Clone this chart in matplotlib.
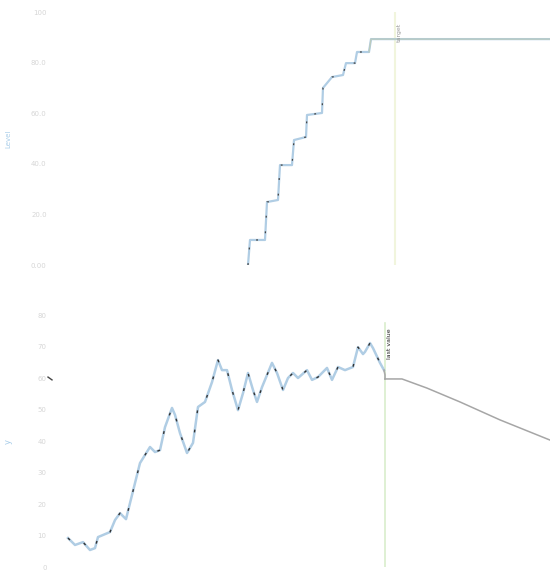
import matplotlib.pyplot as plt

# top panel: cumulative level (stair steps), x in days
top_x = [193, 195, 210, 212, 223, 225, 237, 239, 251, 252, 267, 268, 277, 288, 291, 300, 302, 314, 316, 495]
top_y = [0, 9.9, 9.9, 24.9, 25.7, 39.5, 39.5, 49.4, 50.6, 59.3, 60.1, 70.0, 74.3, 75.1, 79.8, 79.8, 84.2, 84.2, 89.3, 89.3]

# bottom panel: observed series then projection
obs_x = [13, 20, 28, 35, 40, 43, 55, 60, 65, 71, 75, 85, 95, 100, 105, 110, 117, 120, 125, 132,
         138, 143, 150, 157, 163, 167, 172, 177, 183, 188, 193, 198, 202, 207, 217, 222, 228, 233,
         238, 243, 252, 257, 263, 272, 277, 283, 290, 298, 303, 308, 310, 315, 318, 325, 329]
obs_y = [9.2, 7.0, 7.9, 5.4, 6.0, 9.5, 11.1, 14.9, 17.1, 15.2, 20.3, 33.0, 38.1, 36.5, 37.1, 44.4,
         50.5, 48.3, 42.5, 36.2, 39.4, 50.8, 52.4, 58.7, 65.7, 62.5, 62.5, 56.2, 49.8, 55.2, 61.6,
         56.2, 52.4, 57.1, 64.8, 61.6, 56.2, 60.0, 61.6, 60.0, 62.5, 59.4, 60.3, 63.2, 59.4, 63.5,
         62.5, 63.5, 69.8, 67.6, 68.3, 71.1, 69.5, 64.8, 62.5]
proj_x = [330, 347, 372, 405, 445, 495]
proj_y = [59.7, 59.7, 56.8, 52.4, 46.7, 40.3]

top_event_x = 340
bottom_event_x = 330
light_blue = '#b0cde4'

fig = plt.figure(figsize=(5.5, 5.78), dpi=100)
ax1 = fig.add_axes([0.1, 0.5415, 0.9, 0.4377])
ax2 = fig.add_axes([0.1, 0.019, 0.9, 0.436])

for ax in (ax1, ax2):
    ax.set_xlim(0, 495)
    for s in ax.spines.values():
        s.set_visible(False)
    ax.set_xticks([])
    ax.tick_params(axis='y', length=0, labelsize=5, labelcolor='#d6d6d6', pad=6)

ax1.plot(top_x, top_y, color=light_blue, lw=1.6)
ax1.plot(top_x[:18], top_y[:18], color='#444444', lw=0.9, ls=(0, (1.5, 11)))
ax1.plot(top_x[17:], top_y[17:], color='#bccbbc', lw=0.9)
ax1.axvline(top_event_x, color='#f1f5dd', lw=1.5, ymin=-0.02, zorder=0)
ax1.text(top_event_x + 2, 88, 'target', rotation=90, fontsize=4.5, color='#999999', va='bottom')
ax1.set_ylim(0, 100)
ax1.set_yticks([0, 20, 40, 60, 80, 100])
ax1.set_yticklabels(['0.00', '20.0', '40.0', '60.0', '80.0', '100'])
ax1.set_ylabel('Level', fontsize=5, color='#a8cde9', labelpad=14)

ax2.plot(obs_x, obs_y, color=light_blue, lw=1.8)
ax2.plot(obs_x, obs_y, color='#333333', lw=1, ls=(0, (2, 12)))
ax2.plot([329, 330, 330], [62.5, 61.0, 59.7], color='#aaaaaa', lw=1.2)
ax2.plot(proj_x, proj_y, color='#a6a6a6', lw=1.1)
ax2.axvline(bottom_event_x, color='#d9edcc', lw=1.2, zorder=0, ymax=0.97)
ax2.text(bottom_event_x + 2, 66, 'last value', rotation=90, fontsize=4.5, color='#222222', va='bottom')
ax2.plot([-7, -3], [60.3, 59.4], color='#444444', lw=1, clip_on=False)
ax2.set_ylim(0, 80)
ax2.set_yticks(range(0, 81, 10))
ax2.set_ylabel('y', fontsize=6, color='#a8cde9', labelpad=18)

fig.savefig('out.png', dpi=100)
